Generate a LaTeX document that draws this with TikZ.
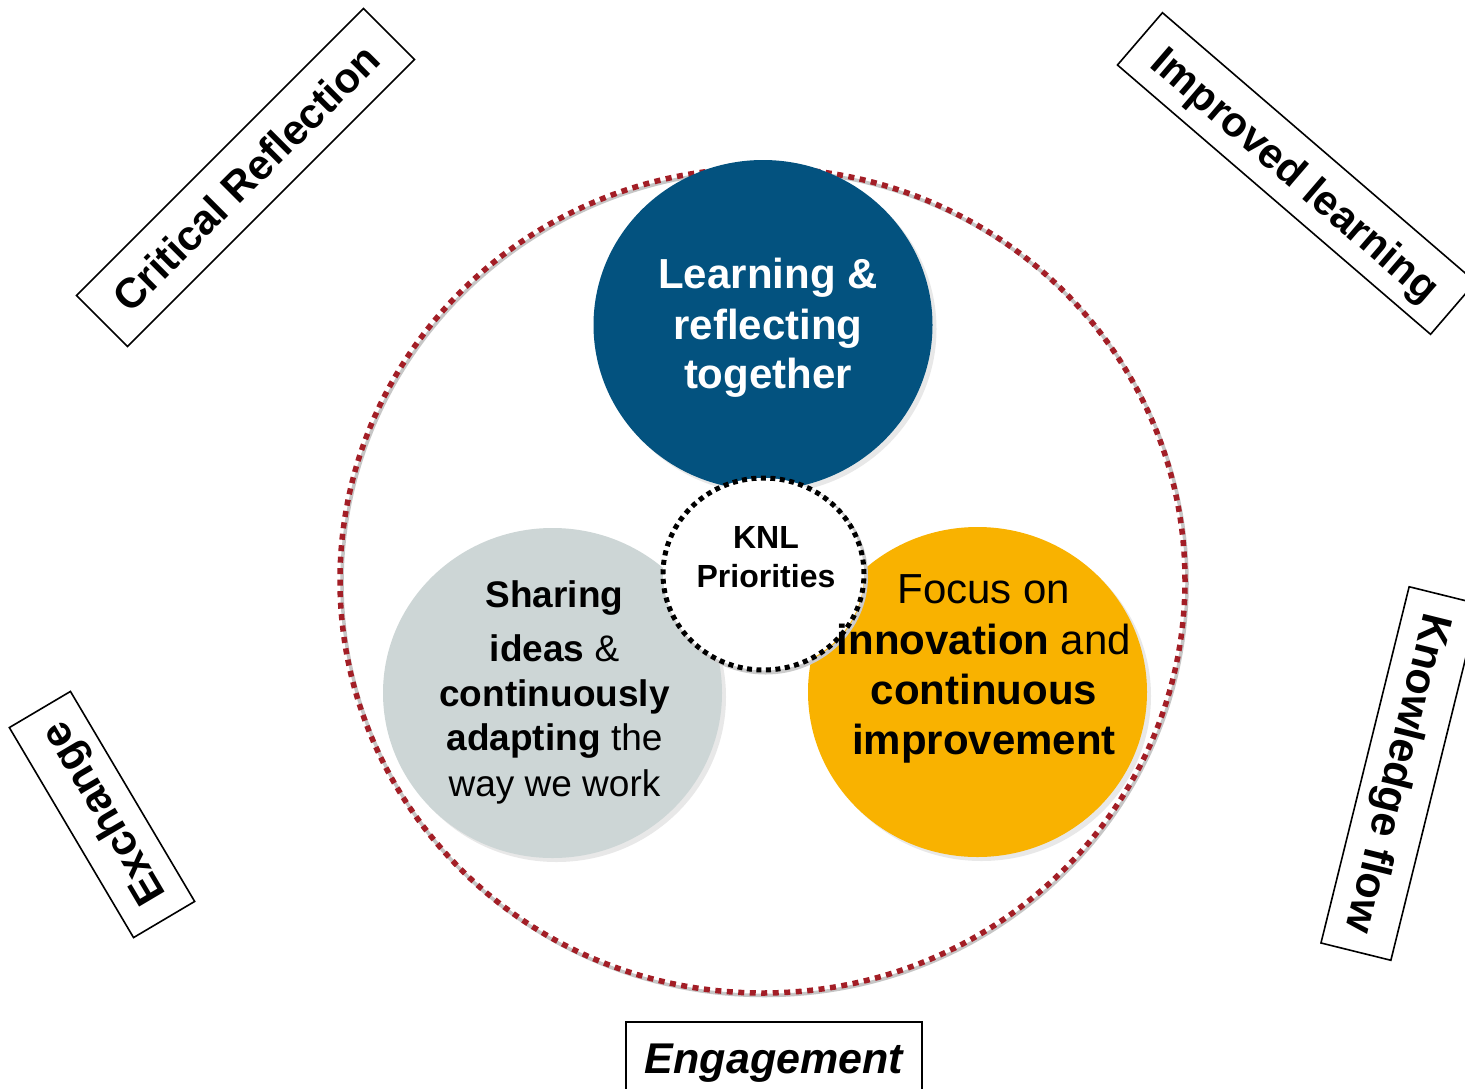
\documentclass[tikz,border=0pt]{standalone}
\usepackage{fontspec}
\setmainfont{Liberation Sans}
\usetikzlibrary{shapes.geometric,shadows}
\definecolor{knlblue}{RGB}{3,82,127}
\definecolor{knlgray}{RGB}{205,214,214}
\definecolor{knlorange}{RGB}{249,178,0}
\definecolor{knlred}{RGB}{163,30,38}
\begin{document}
\begin{tikzpicture}[x=1pt,y=-1pt,
  bubble/.style={ellipse, inner sep=0pt, minimum width=339pt, minimum height=330pt,
    drop shadow={shadow xshift=4pt, shadow yshift=-4pt, opacity=0.18}},
  labelbox/.style={draw=black, line width=1.6pt, fill=white, inner sep=0pt,
    minimum height=72pt, text height=30.5pt, text depth=0pt,
    font=\fontsize{43}{50}\selectfont\bfseries},
  txtline/.style={anchor=base, inner sep=0pt},
  bigfont/.style={font=\fontsize{42}{50}\selectfont},
  midfont/.style={font=\fontsize{37}{45}\selectfont},
]
\useasboundingbox (0,0) rectangle (1465,1088);
\fill[white] (0,0) rectangle (1465,1088);

% outer dashed ring
\draw[gray!45, line width=3.5pt] (764.5,583) ellipse [x radius=422.5, y radius=412.5];
\node[ellipse, inner sep=0pt, minimum width=845pt, minimum height=825pt,
  draw=knlred, line width=5.5pt, dash pattern=on 6pt off 5.5pt] (ring) at (762.5,580.5) {};

% three bubbles
\node[bubble, fill=knlblue] (learn) at (763,325) {};
\node[bubble, fill=knlgray] (share) at (552.5,693) {};
\node[bubble, fill=knlorange] (focus) at (977.5,692) {};

% centre
\draw[gray!40, line width=4pt] (765.5,576.5) ellipse [x radius=100.5, y radius=96];
\node[ellipse, inner sep=0pt, minimum width=201pt, minimum height=192pt, fill=white,
  draw=black, line width=5pt, dash pattern=on 5pt off 4.5pt] (knl) at (763.5,574) {};

% texts
\node[txtline, bigfont, text=white] (l1) at (768,288) {\bfseries Learning \&};
\node[txtline, bigfont, text=white] (l2) at (768,339) {\bfseries reflecting};
\node[txtline, bigfont, text=white] (l3) at (768,388) {\bfseries together};

\node[txtline, font=\fontsize{32}{38}\selectfont\bfseries] (k1) at (766,548) {KNL};
\node[txtline, font=\fontsize{32}{38}\selectfont\bfseries] (k2) at (766,587) {Priorities};

\node[txtline, midfont] (s1) at (554.5,607) {\bfseries Sharing};
\node[txtline, midfont] (s2) at (554.5,661) {\textbf{ideas} \&};
\node[txtline, midfont] (s3) at (554.5,706) {\bfseries continuously};
\node[txtline, midfont] (s4) at (554.5,750) {\textbf{adapting} the};
\node[txtline, midfont] (s5) at (554.5,796) {way we work};

\node[txtline, bigfont] (f1) at (984,603) {Focus on};
\node[txtline, bigfont] (f2) at (984,654) {\textbf{innovation} and};
\node[txtline, bigfont] (f3) at (984,704) {\bfseries continuous};
\node[txtline, bigfont] (f4) at (984,754) {\bfseries improvement};

% outer labels
\node[labelbox, minimum width=406pt, rotate=45, font=\fontsize{42}{50}\selectfont\bfseries] (crit) at (245.5,177.5) {Critical Reflection};
\node[labelbox, minimum width=413pt, minimum height=69pt, rotate=-40.7, font=\fontsize{42}{50}\selectfont\bfseries] (impr) at (1296.5,173.5) {Improved learning};
\node[labelbox, minimum width=244pt, minimum height=71pt, rotate=120.6] (exch) at (102,814.5) {Exchange};
\node[labelbox, minimum width=367pt, rotate=-103.9] (know) at (1400,773.5) {Knowledge flow};
\node[labelbox, minimum width=296pt, font=\fontsize{43}{50}\selectfont\bfseries\itshape] (enga) at (774,1058) {Engagement};
\end{tikzpicture}
\end{document}
